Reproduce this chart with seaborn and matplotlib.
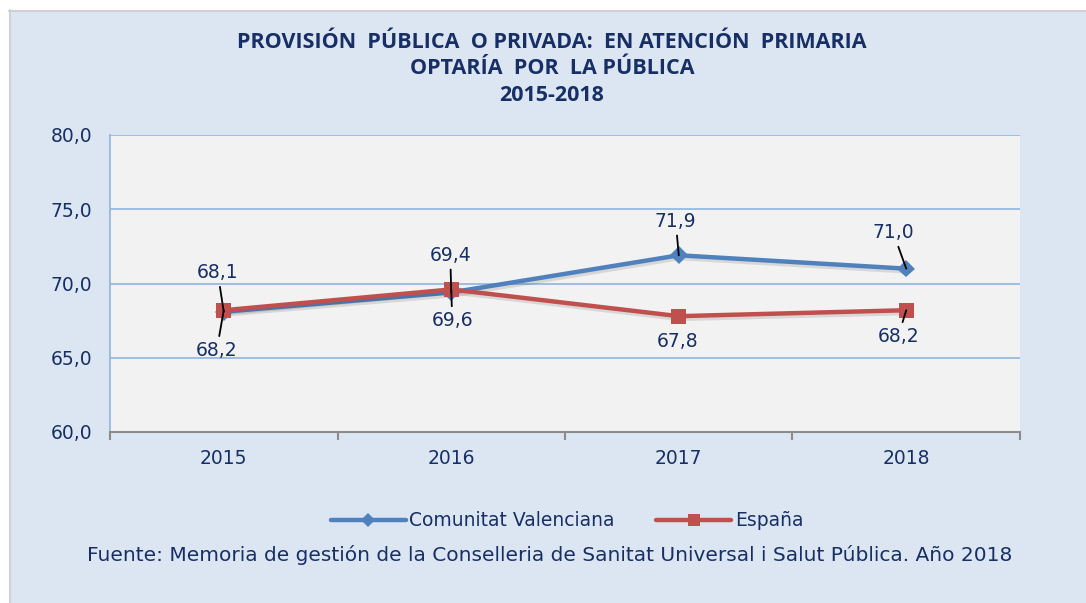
import numpy as np
import pandas as pd
import matplotlib
matplotlib.use("Agg")
import matplotlib.pyplot as plt
import matplotlib.patches as mpatches
import matplotlib.patheffects as pe
from matplotlib.lines import Line2D
import seaborn as sns

# -- Datos --------------------------------------------------------------------
anios = ["2015", "2016", "2017", "2018"]
valenciana = [68.1, 69.4, 71.9, 71.0]
espana = [68.2, 69.6, 67.8, 68.2]
series = ["Comunitat Valenciana", "España"]

df = pd.DataFrame({
    "pos": list(range(len(anios))) * 2,
    "valor": valenciana + espana,
    "serie": [series[0]] * len(anios) + [series[1]] * len(anios),
})

AZUL = "#4f81bd"
ROJO = "#c0504d"
TEXTO = "#172f66"
FONDO = "#dce6f2"
AREA = "#f2f2f2"
REJILLA = "#95b9e3"

sns.set_theme(style="white")
plt.rcParams["font.family"] = ["DejaVu Sans"]

fig = plt.figure(figsize=(10.86, 6.03), dpi=100, facecolor=FONDO)
# franja blanca superior/izquierda con borde gris
fig.patches.append(mpatches.Rectangle((0, 1 - 10 / 603), 1, 10 / 603, transform=fig.transFigure,
                                      facecolor="white", edgecolor="none", zorder=0))
fig.patches.append(mpatches.Rectangle((0, 0), 9 / 1086, 1, transform=fig.transFigure,
                                      facecolor="white", edgecolor="none", zorder=0))
fig.lines.append(Line2D([9 / 1086, 1], [1 - 10.5 / 603] * 2, transform=fig.transFigure,
                        color="#d0d0d0", lw=1.5))
fig.lines.append(Line2D([9.5 / 1086] * 2, [0, 1 - 10 / 603], transform=fig.transFigure,
                        color="#d0d0d0", lw=1.5))

ax = fig.add_axes([110 / 1086, 1 - 432 / 603, 910 / 1086, 297 / 603])
ax.set_facecolor(AREA)

sombra = [pe.SimpleLineShadow(offset=(1, -2), alpha=0.12, rho=0.5), pe.Normal()]
sns.lineplot(data=df, x="pos", y="valor", hue="serie", style="serie",
             palette={series[0]: AZUL, series[1]: ROJO},
             markers={series[0]: "D", series[1]: "s"}, dashes=False,
             markersize=10, markeredgewidth=0, linewidth=3.2,
             legend=False, ax=ax, zorder=3)
for ln in ax.lines:
    ln.set_path_effects(sombra)
ax.lines[0].set_markersize(9)
ax.lines[1].set_markersize(11)
ax.lines[1].set_zorder(4)

ax.set_xlim(-0.5, 3.5)
ax.set_ylim(60, 80)
ax.set_yticks([60, 65, 70, 75, 80])
ax.set_yticklabels([f"{v:.1f}".replace(".", ",") for v in [60, 65, 70, 75, 80]])
ax.set_xticks(range(len(anios)))
ax.set_xticklabels(anios)
ax.set_xticks(np.arange(-0.5, 4, 1), minor=True)
ax.set_xlabel("")
ax.set_ylabel("")

ax.grid(axis="y", color=REJILLA, linewidth=1.3)
ax.set_axisbelow(True)
for s in ["top", "right"]:
    ax.spines[s].set_visible(False)
ax.spines["left"].set_color(REJILLA)
ax.spines["left"].set_linewidth(1.3)
ax.spines["bottom"].set_color("#8c8c8c")
ax.spines["bottom"].set_linewidth(1.5)
ax.tick_params(axis="y", length=7, width=1.3, color=REJILLA, labelsize=13.5,
               labelcolor=TEXTO, pad=6)
ax.tick_params(axis="x", which="major", length=0, labelsize=13.5, labelcolor=TEXTO, pad=12)
ax.tick_params(axis="x", which="minor", length=6, width=1.5, color="#8c8c8c", direction="out",
               bottom=True)

# -- Etiquetas de datos con líneas guía -----------------------------------------
etiquetas = [
    (0, valenciana[0], (-6, 39), True),
    (0, espana[0], (-7, -40), True),
    (1, valenciana[1], (-1, 37), True),
    (1, espana[1], (1, -31), True),
    (2, valenciana[2], (-3, 34), True),
    (2, espana[2], (-1, -25), False),
    (3, valenciana[3], (-13, 36), True),
    (3, espana[3], (-8, -26), True),
]
for x, v, off, guia in etiquetas:
    ax.annotate(f"{v:.1f}".replace(".", ","), xy=(x, v), xytext=off,
                textcoords="offset pixels", ha="center", va="center",
                fontsize=13.5, color=TEXTO, zorder=6,
                arrowprops=dict(arrowstyle="-", color="black", lw=1.3,
                                shrinkA=1, shrinkB=0) if guia else None)

# -- Títulos --------------------------------------------------------------------
for texto, y in [("PROVISIÓN  PÚBLICA  O PRIVADA:  EN ATENCIÓN  PRIMARIA", 42),
                 ("OPTARÍA  POR  LA PÚBLICA", 68),
                 ("2015-2018", 96)]:
    fig.text(552 / 1086, 1 - y / 603, texto, ha="center", va="center",
             fontsize=15.5, fontweight="bold", color=TEXTO, family=["Open Sans", "DejaVu Sans"])

# -- Leyenda --------------------------------------------------------------------
handles = [Line2D([], [], color=AZUL, lw=3.2, marker="D", markersize=7, markeredgewidth=0),
           Line2D([], [], color=ROJO, lw=3.2, marker="s", markersize=9, markeredgewidth=0)]
leg = fig.legend(handles, series, loc="center", bbox_to_anchor=(567 / 1086, 1 - 521 / 603),
                 ncol=2, frameon=False, fontsize=13.5, handlelength=4.0, handletextpad=0.2,
                 columnspacing=2.2)
for t in leg.get_texts():
    t.set_color(TEXTO)

fig.text(550 / 1086, 1 - 555 / 603,
         "Fuente: Memoria de gestión de la Conselleria de Sanitat Universal i Salut Pública. Año 2018",
         ha="center", va="center", fontsize=14.5, color=TEXTO)

fig.savefig("out.png", dpi=100, facecolor=FONDO)
